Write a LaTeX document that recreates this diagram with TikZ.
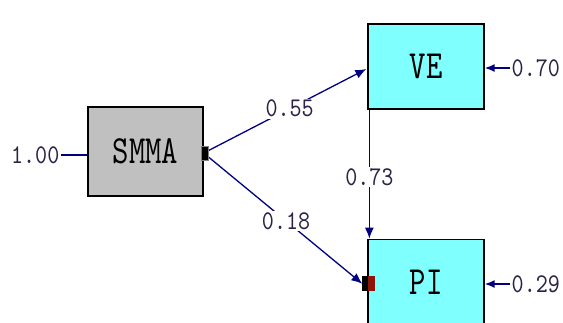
\documentclass[tikz,border=0pt]{standalone}
\usepackage{fontspec}
\usepackage{xcolor}
\usepackage{tikz}
\usetikzlibrary{arrows.meta,positioning}
\newfontfamily\varfont[FakeStretch=0.78]{lmmono10-regular.otf}
\newfontfamily\coeffont[FakeStretch=0.85]{lmmono10-regular.otf}
\definecolor{lisnavy}{RGB}{0,0,128}
\definecolor{lisink}{RGB}{45,35,70}
\definecolor{lisgray}{RGB}{192,192,192}
\definecolor{liscyan}{RGB}{128,255,255}
\definecolor{lisred}{RGB}{140,20,10}

\begin{document}
\begin{tikzpicture}[x=1pt, y=-1pt,
    obsbox/.style={rectangle, draw=black, line width=1.3pt, inner sep=0pt,
                   minimum width=115pt, minimum height=87pt,
                   font=\varfont\fontsize{40}{40}\selectfont},
    coef/.style={fill=white, inner sep=1.5pt, text=lisink,
                 font=\coeffont\fontsize{27}{27}\selectfont},
    arr/.style={-{Latex[length=11pt,width=9pt]}, lisnavy, line width=1.3pt},
    errarr/.style={-{Latex[length=10pt,width=8pt]}, lisnavy, line width=1.6pt}]

    \useasboundingbox (0,0) rectangle (563,322);
    \clip (0,0) rectangle (563,322);

    %% Observed variables
    \node[obsbox, fill=lisgray, minimum height=89pt] (smma) at (145.5,151.5) {SMMA};
    \node[obsbox, fill=liscyan, minimum width=116pt, minimum height=85pt] (ve) at (426,66.5) {VE};
    \node[obsbox, fill=liscyan, minimum width=116pt, minimum height=85pt,
          below=129pt of ve] (pi) {PI};

    %% Variances
    \node[coef, anchor=east] (smmavar) at (61,155) {1.00};
    \node[coef, anchor=west] (veerr) at (510,68) {0.70};
    \node[coef, anchor=west] (pierr) at (510,284) {0.29};

    \draw[lisnavy, line width=1.3pt] (smmavar.east) -- (smmavar.east -| smma.west);
    \draw[errarr] (veerr.west) -- (veerr.west -| ve.east);
    \draw[errarr] (pierr.west) -- (pierr.west -| pi.east);

    %% Paths
    \draw[arr] ([xshift=3pt]smma.east) -- ([xshift=-1pt,yshift=-2.5pt]ve.west)
        node[coef, pos=0.52] (pve) {0.55};
    \draw[arr] ([xshift=3pt,yshift=-4pt]smma.east) -- ([xshift=-5pt,yshift=-2pt]pi.west)
        node[coef, pos=0.51] (ppi) {0.18};
    \draw[arr] ([xshift=2pt]ve.south west) -- ([xshift=2pt]pi.north west)
        node[coef, pos=0.52] (pvp) {0.73};

    %% Handles
    \filldraw[fill=black, draw=gray, line width=0.8pt] (201,146) rectangle (208,160);
    \fill[black] (362,276) rectangle (368,291);
    \fill[lisred] (368,276) rectangle (375,291);
  \end{tikzpicture}
\end{document}
